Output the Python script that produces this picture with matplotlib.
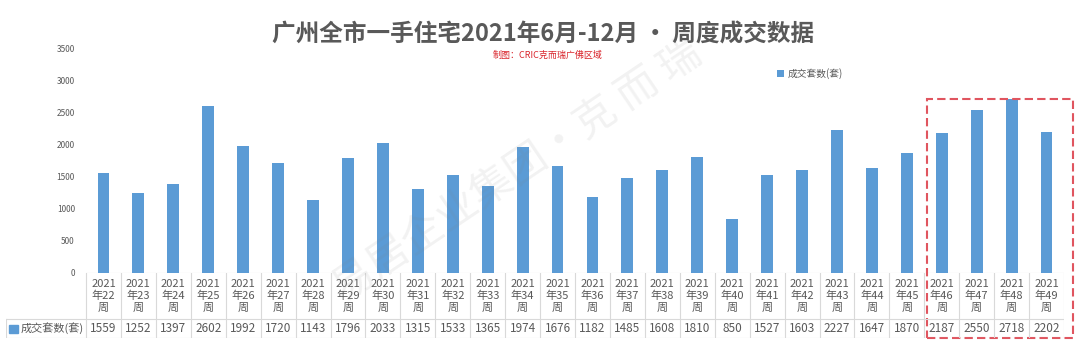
import matplotlib
matplotlib.use('Agg')
import matplotlib.pyplot as plt
import matplotlib.transforms as mtrans
from matplotlib.patches import Rectangle

plt.rcParams['font.family'] = ['Noto Sans CJK SC', 'DejaVu Sans']

weeks = list(range(22, 50))
sales = [1559, 1252, 1397, 2602, 1992, 1720, 1143, 1796, 2033, 1315,
         1533, 1365, 1974, 1676, 1182, 1485, 1608, 1810, 850, 1527,
         1603, 2227, 1647, 1870, 2187, 2550, 2718, 2202]
week_labels = [f'2021\n年{w}\n周' for w in weeks]
y_ticks = [0, 500, 1000, 1500, 2000, 2500, 3000, 3500]
series_name = '成交套数(套)'
highlight_from = 46

BLUE = '#5B9BD5'
GREY = '#595959'
LINE = '#D9D9D9'

W, H = 1080, 343
fig = plt.figure(figsize=(W / 100, H / 100), dpi=100)


def px(x0, y0, x1, y1):
    # pixel box (top-left origin) -> figure fraction rect
    return [x0 / W, 1 - y1 / H, (x1 - x0) / W, (y1 - y0) / H]


ax = fig.add_axes(px(86, 49, 1064, 273))
x = list(range(len(sales)))
ax.bar(x, sales, width=0.34, color=BLUE, label=series_name, zorder=2)
ax.set_xlim(-0.5, len(sales) - 0.5)
ax.set_ylim(0, 3500)
ax.set_yticks(y_ticks)
ax.set_yticklabels([str(t) for t in y_ticks], fontsize=6, color=GREY)
ax.tick_params(axis='y', length=0, pad=8)
ax.set_xticks([])
for s in ax.spines.values():
    s.set_visible(False)
ax.axhline(0, color=LINE, lw=0.8, zorder=1)

# watermark (faint overlay, like the stamped logo)
fig.text(0.48, 0.5, '易居企业集团·克 而 瑞', fontsize=30, color='#808080',
         alpha=0.1, rotation=34, ha='center', va='center')

# table under the chart
col_w = (1064 - 86) / len(sales)
left_cols = (86 - 6) / col_w
tab = fig.add_axes(px(6, 273, 1064, 338))
tab.set_xlim(-0.5 - left_cols, len(sales) - 0.5)
tab.set_ylim(0, 65)
tab.axis('off')
row = 19
for i in range(len(sales) + 1):
    tab.plot([i - 0.5, i - 0.5], [0, 65], color=LINE, lw=0.8)
tab.plot([-0.5 - left_cols] * 2, [0, row], color=LINE, lw=0.8)
tab.plot([-0.5 - left_cols, len(sales) - 0.5], [0, 0], color=LINE, lw=0.8)
tab.plot([-0.5 - left_cols, len(sales) - 0.5], [row, row], color=LINE, lw=0.8)
for i, (lab, v) in enumerate(zip(week_labels, sales)):
    tab.text(i, (65 + row) / 2, lab, ha='center', va='center', fontsize=8,
             color=GREY, linespacing=1.2)
    tab.text(i, row / 2, str(v), ha='center', va='center', fontsize=8.5,
             color=GREY)
tab.add_patch(Rectangle((-0.5 - left_cols + 0.1, row / 2 - 4), 0.25, 8,
                        color=BLUE, clip_on=False))
tab.text(-0.5 - left_cols + 0.42, row / 2, series_name, ha='left',
         va='center', fontsize=8, color=GREY)

# highlight box around the last weeks
k = weeks.index(highlight_from)
trans = mtrans.blended_transform_factory(ax.transData, ax.transAxes)
top = max(sales[k:]) / 3500
ax.add_patch(Rectangle((k - 0.43, -0.29), len(sales) - 1 - k + 1.19,
                       top + 0.29, transform=trans, fill=False,
                       ec='#E0555F', lw=1.5, ls=(0, (4, 2)), clip_on=False,
                       zorder=5))

fig.text(543 / W, 1 - 35 / H, '广州全市一手住宅2021年6月-12月 · 周度成交数据',
         ha='center', va='center', fontsize=17, weight='bold', color=GREY)
fig.text(548 / W, 1 - 55 / H, '制图：CRIC克而瑞广佛区域', ha='center',
         va='center', fontsize=6.5, color='#D9242B')
ax.legend(loc='upper left', bbox_to_anchor=(772 / W, 1 - 63 / H),
          bbox_transform=fig.transFigure, frameon=False, fontsize=7,
          handlelength=0.7, handleheight=0.7, handletextpad=0.4,
          labelcolor=GREY, borderpad=0)

fig.savefig('out.png', dpi=100, facecolor='white')
